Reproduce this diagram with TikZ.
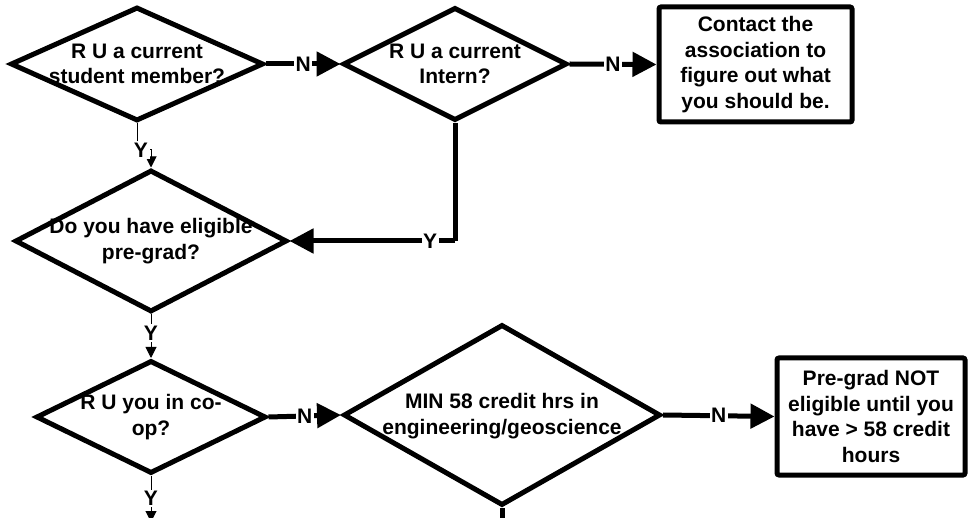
\documentclass[tikz,border=0pt]{standalone}
\usepackage{fontspec}
\setmainfont{Liberation Sans}
\usetikzlibrary{shapes.geometric,arrows.meta}
\begin{document}
\begin{tikzpicture}[x=1pt,y=-1pt,
  dia/.style={diamond, draw, line width=5pt, inner sep=0pt},
  box/.style={rectangle, draw, line width=5pt, rounded corners=2pt, inner sep=0pt, align=center, font=\fontsize{21}{25.5}\selectfont\bfseries},
  txt/.style={align=center, font=\fontsize{21}{25.5}\selectfont\bfseries, inner sep=0pt},
  lbl/.style={font=\fontsize{21}{25}\selectfont\bfseries, fill=white, inner sep=1.5pt},
  bigarrow/.style={line width=5pt, -{Triangle[length=24pt,width=24pt]}},
  thinarrow/.style={line width=1pt, -{Triangle[length=11pt,width=11pt]}},
  thick5/.style={line width=5pt}
  ]
\useasboundingbox (0,0) rectangle (972,518);
\clip (0,0) rectangle (972,518);
% diamonds
\node[dia, minimum width=253pt, minimum height=114pt] (d1) at (137,64) {};
\node[txt] (t1) at (d1) {R U a current\\student member?};
\node[dia, minimum width=224pt, minimum height=113pt] (d2) at (455,64) {};
\node[txt] (t2) at (d2) {R U a current\\Intern?};
\node[dia, minimum width=272pt, minimum height=142pt] (d3) at (151,241) {};
\node[txt] (t3) at (d3) {Do you have eligible\\pre-grad?};
\node[dia, minimum width=230pt, minimum height=113pt] (d4) at (151,417) {};
\node[txt] (t4) at (d4) {R U you in co-\\op?};
\node[dia, minimum width=317pt, minimum height=181pt] (d5) at (502,415) {};
\node[txt] (t5) at (502,416) {MIN 58 credit hrs in\\engineering/geoscience};
% boxes
\node[box, minimum width=193pt, minimum height=115pt] (b1) at (755.5,64.5) {Contact the\\association to\\figure out what\\you should be.};
\node[box, minimum width=188pt, minimum height=117pt] (b2) at (871,416.5) {Pre-grad NOT\\eligible until you\\have > 58 credit\\hours};
% coordinates
\coordinate (c1) at (d2.south |- d3.east);
\coordinate (c2) at (151,150);
\coordinate (e1) at (502,530);
\coordinate (e2) at (151,522);
% connectors
\draw[bigarrow] (d1.east) -- node[lbl, pos=0.5] {N} (d2.west);
\draw[bigarrow] (d2.east) -- node[lbl, pos=0.5] {N} (b1.west);
\draw[thick5] (d2.south) -- (c1);
\draw[bigarrow] (c1) -- node[lbl, pos=0.15] {Y} (d3.east);
\draw[thinarrow] (d1.south) |- (c2) -- (d3.north);
\node[lbl] (y1) at (141,150) {Y};
\draw[thinarrow] (d3.south) -- node[lbl, pos=0.43] {Y} (d4.north);
\draw[bigarrow] (d4.east) -- node[lbl, pos=0.5] {N} (d5.west);
\draw[bigarrow] (d5.east) -- node[lbl, pos=0.5] {N} (b2.west);
\draw[thick5] (d5.south) -- (e1);
\draw[thinarrow] (d4.south) -- node[lbl, pos=0.49] {Y} (e2);
\end{tikzpicture}
\end{document}
